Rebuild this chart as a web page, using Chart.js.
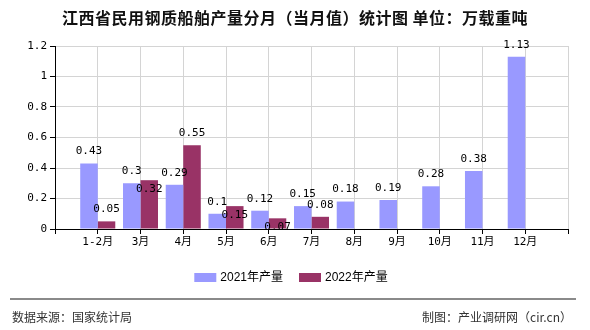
<!DOCTYPE html>
<html><head><meta charset="utf-8">
<script src="https://cdn.jsdelivr.net/npm/chart.js@4"></script>
<style>
html,body{margin:0;padding:0;background:#fff;width:590px;height:330px;overflow:hidden;}
#wrap{position:relative;width:590px;height:330px;}
#c{position:absolute;left:0;top:0;}
#title{position:absolute;left:0;top:7px;width:590px;text-align:center;font:bold 16px "Noto Sans CJK SC",sans-serif;letter-spacing:0.5px;line-height:20px;color:#111;white-space:nowrap;}
#line{position:absolute;left:10px;top:298px;width:566px;height:0;border-top:2px solid #8a8a8a;}
#src{position:absolute;left:12px;top:309px;font:12px "Noto Sans CJK SC",sans-serif;line-height:16px;color:#333;}
#by{position:absolute;right:18px;top:309px;font:12px "Noto Sans CJK SC",sans-serif;line-height:16px;color:#333;}
</style></head>
<body><div id="wrap">
<canvas id="c" width="590" height="330"></canvas>
<div id="title">江西省民用钢质船舶产量分月（当月值）统计图 单位：万载重吨</div>
<div id="line"></div>
<div id="src">数据来源：国家统计局</div>
<div id="by">制图：产业调研网（cir.cn）</div>
</div>
<script>
const categories = ['1-2月','3月','4月','5月','6月','7月','8月','9月','10月','11月','12月'];
const output2021 = [0.43,0.3,0.29,0.1,0.12,0.15,0.18,0.19,0.28,0.38,1.13];
const output2022 = [0.05,0.32,0.55,0.15,0.07,0.08,null,null,null,null,null];
const seriesNames = ['2021年产量','2022年产量'];
const seriesColors = ['#9999ff','#993366'];
const yTicks = [0,0.2,0.4,0.6,0.8,1,1.2];

// pad the category axis with an empty slot on each side
const labels = [''].concat(categories, ['']);
const pad = arr => [null].concat(arr, [null]);

const monoFont = '"DejaVu Sans Mono","Noto Sans CJK SC",monospace';

const valueLabels = {
  id: 'valueLabels',
  afterDatasetsDraw(chart) {
    const ctx = chart.ctx;
    ctx.save();
    ctx.font = '11px ' + monoFont;
    ctx.fillStyle = '#000';
    ctx.textAlign = 'center';
    ctx.textBaseline = 'middle';
    const pos = [[], []];
    [0, 1].forEach(di => {
      const meta = chart.getDatasetMeta(di);
      meta.data.forEach((el, i) => {
        const v = chart.data.datasets[di].data[i];
        if (v == null) return;
        pos[di][i] = { x: el.x, y: el.y - 12, top: el.y, v };
      });
    });
    pos[1].forEach((p, i) => {
      if (!p) return;
      const q = pos[0][i];
      if (q && Math.abs(p.y - q.y) < 10) p.y = p.top + 9;
    });
    pos.forEach(arr => arr.forEach(p => { if (p) ctx.fillText(String(p.v), p.x, p.y); }));
    ctx.restore();
  }
};

const customLegend = {
  id: 'customLegend',
  afterDraw(chart) {
    const ctx = chart.ctx;
    ctx.save();
    ctx.font = '12px "Liberation Sans","Noto Sans CJK SC",sans-serif';
    ctx.textBaseline = 'middle';
    ctx.textAlign = 'left';
    const boxW = 22, boxH = 9, gapT = 4, gapI = 16;
    const items = chart.data.datasets.map(d => ({ label: d.label, color: d.backgroundColor, w: boxW + gapT + ctx.measureText(d.label).width }));
    const total = items.reduce((s, it) => s + it.w, 0) + gapI * (items.length - 1);
    let x = 291 - total / 2;
    const cy = 277;
    items.forEach(it => {
      ctx.fillStyle = it.color;
      ctx.fillRect(x, cy - 4, boxW, boxH);
      ctx.fillStyle = '#000';
      ctx.fillText(it.label, x + boxW + gapT, cy + 1);
      x += it.w + gapI;
    });
    ctx.restore();
  }
};

new Chart(document.getElementById('c'), {
  type: 'bar',
  data: {
    labels: labels,
    datasets: [
      { label: seriesNames[0], data: pad(output2021), backgroundColor: seriesColors[0], categoryPercentage: 0.82, barPercentage: 1 },
      { label: seriesNames[1], data: pad(output2022), backgroundColor: seriesColors[1], categoryPercentage: 0.82, barPercentage: 1 }
    ]
  },
  options: {
    responsive: false,
    devicePixelRatio: 1,
    animation: false,
    layout: { padding: { left: 0, right: 22, top: 46, bottom: 71 } },
    plugins: { legend: { display: false }, tooltip: { enabled: false }, title: { display: false } },
    scales: {
      x: {
        offset: false,
        afterFit: s => { s.height = 30; },
        grid: {
          offset: false,
          color: c => c.index === 0 ? '#000' : '#d4d4d4',
          tickColor: '#000',
          tickLength: 5,
          lineWidth: 1
        },
        border: { color: '#000', width: 1 },
        ticks: { font: { family: monoFont, size: 11 }, color: '#000', padding: 2, autoSkip: false, maxRotation: 0 }
      },
      y: {
        min: 0, max: 1.2,
        afterFit: s => { s.width = 55; },
        afterBuildTicks: s => { s.ticks = yTicks.map(v => ({ value: v })); },
        grid: {
          color: c => c.index === 0 ? '#000' : '#d4d4d4',
          tickColor: '#000',
          tickLength: 5
        },
        border: { color: '#000', width: 1 },
        ticks: { font: { family: monoFont, size: 11 }, color: '#000', padding: 3, callback: v => String(Math.round(v * 10) / 10) }
      }
    }
  },
  plugins: [valueLabels, customLegend]
});
</script>
</body></html>
